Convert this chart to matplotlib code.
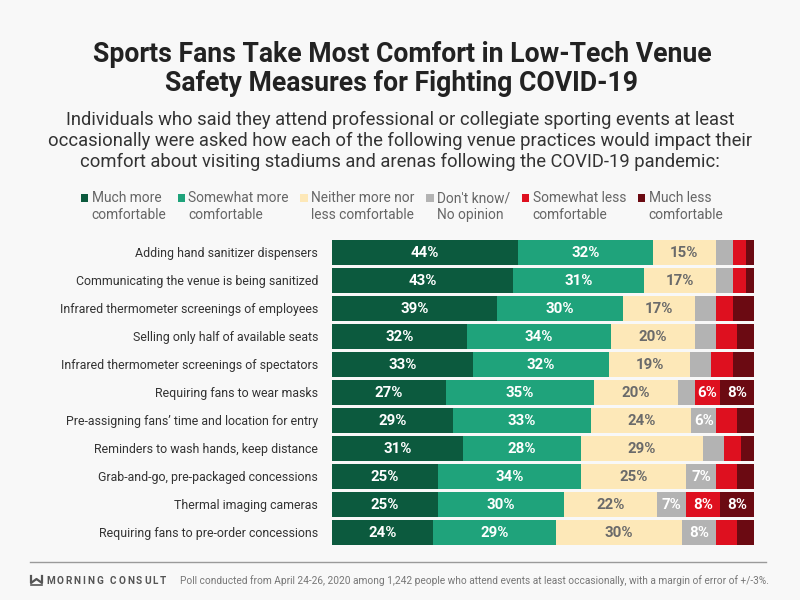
import matplotlib
matplotlib.use("Agg")
import matplotlib.pyplot as plt
from matplotlib.patches import Rectangle
from matplotlib.lines import Line2D
import numpy as np

categories = [
    "Adding hand sanitizer dispensers",
    "Communicating the venue is being sanitized",
    "Infrared thermometer screenings of employees",
    "Selling only half of available seats",
    "Infrared thermometer screenings of spectators",
    "Requiring fans to wear masks",
    "Pre-assigning fans\u2019 time and location for entry",
    "Reminders to wash hands, keep distance",
    "Grab-and-go, pre-packaged concessions",
    "Thermal imaging cameras",
    "Requiring fans to pre-order concessions",
]
much_more = [44, 43, 39, 32, 33, 27, 29, 31, 25, 25, 24]
somewhat_more = [32, 31, 30, 34, 32, 35, 33, 28, 34, 30, 29]
neither = [15, 17, 17, 20, 19, 20, 24, 29, 25, 22, 30]
dont_know = [4, 4, 5, 5, 5, 4, 6, 5, 7, 7, 8]
somewhat_less = [3, 3, 4, 5, 5, 6, 5, 4, 5, 8, 5]
much_less = [2, 2, 5, 4, 5, 8, 4, 3, 4, 8, 4]

series_names = ["Much more\ncomfortable", "Somewhat more\ncomfortable",
                "Neither more nor\nless comfortable", "Don't know/\nNo opinion",
                "Somewhat less\ncomfortable", "Much less\ncomfortable"]
series = [much_more, somewhat_more, neither, dont_know, somewhat_less, much_less]
colors = ["#0c5a3e", "#1fa37b", "#fde8b8", "#b3b3b3", "#de101f", "#6b0a12"]
label_colors = ["white", "white", "#6a6a6a", "white", "white", "white"]

BG = "#f8f8f8"
W, H = 800, 600
fig = plt.figure(figsize=(8, 6), dpi=100, facecolor=BG)
plt.rcParams['font.family'] = ['Roboto', 'DejaVu Sans']


def fx(x):
    return x / W


def fy(y):
    return 1 - y / H


# Title
fig.text(fx(402), fy(62), "Sports Fans Take Most Comfort in Low-Tech Venue",
         ha="center", va="baseline", fontsize=19.2, fontweight="bold", color="#222222")
fig.text(fx(402), fy(91), "Safety Measures for Fighting COVID-19",
         ha="center", va="baseline", fontsize=19.2, fontweight="bold", color="#222222")

sub = ["Individuals who said they attend professional or collegiate sporting events at least",
       "occasionally were asked how each of the following venue practices would impact their",
       "comfort about visiting stadiums and arenas following the COVID-19 pandemic:"]
for i, s in enumerate(sub):
    fig.text(fx(400), fy(125 + 21 * i), s, ha="center", va="baseline",
             fontsize=13.2, color="#333333")

# Legend
sq_x = [80.7, 177.5, 300, 426, 521.7, 637.7]
for x, name, c in zip(sq_x, series_names, colors):
    fig.add_artist(Rectangle((fx(x), fy(201.7)), 7.6 / W, 7.6 / H, transform=fig.transFigure,
                             facecolor=c, edgecolor="none"))
    l1, l2 = name.split("\n")
    fig.text(fx(x + 11), fy(202.3), l1, ha="left", va="baseline", fontsize=9.9, color="#666666")
    fig.text(fx(x + 11), fy(219.3), l2, ha="left", va="baseline", fontsize=9.9, color="#666666")

# Bars
ax = fig.add_axes([fx(332), fy(546.5), (754 - 332) / W, (546.5 - 238.5) / H])
ax.set_facecolor(BG)
data = np.array(series, dtype=float)
totals = data.sum(axis=0)
norm = data / totals * 100
y = np.arange(len(categories))
left = np.zeros(len(categories))
for k in range(len(series)):
    ax.barh(y, norm[k], left=left, height=0.89, color=colors[k], edgecolor="none")
    for i in range(len(categories)):
        v = series[k][i]
        if v >= 6:
            ax.text(left[i] + norm[k][i] / 2, y[i] + 0.03, f"{v}%", ha="center", va="center",
                    fontsize=10.8, fontweight="bold", color=label_colors[k])
    left += norm[k]

ax.set_xlim(0, 100)
ax.set_ylim(len(categories) - 0.5, -0.5)
ax.set_yticks(y)
ax.set_yticklabels(categories, fontsize=8.9, color="#333333")
ax.tick_params(axis="y", length=0, pad=10)
ax.set_xticks([])
for sp in ax.spines.values():
    sp.set_visible(False)

# Footer
fig.add_artist(Line2D([fx(30), fx(766)], [fy(562.3), fy(562.3)], transform=fig.transFigure,
                      color="#9a9a9a", linewidth=1.0))
# logo mark
fig.add_artist(Line2D([fx(31), fx(31), fx(36.5), fx(42), fx(42)],
                      [fy(576), fy(583), fy(579), fy(583), fy(576)], transform=fig.transFigure,
                      color="#555555", linewidth=1.6))
fig.add_artist(Line2D([fx(31), fx(42)], [fy(584.5), fy(584.5)], transform=fig.transFigure,
                      color="#555555", linewidth=1.2))

# spaced brand letters
fig.canvas.draw()
renderer = fig.canvas.get_renderer()
brand = "MORNING CONSULT"
xpos = 46.0
for ch in brand:
    t = fig.text(fx(xpos), fy(583.5), ch, ha="left", va="baseline", fontsize=7.2,
                 fontweight="bold", color="#555555")
    if ch == " ":
        wpx = 3.0
    else:
        wpx = t.get_window_extent(renderer).width
    xpos += wpx + 1.9

fig.text(fx(180), fy(583.5),
         "Poll conducted from April 24-26, 2020 among 1,242 people who attend events at least occasionally, with a margin of error of +/-3%.",
         ha="left", va="baseline", fontsize=7.25, color="#777777")

fig.savefig("out.png", dpi=100, facecolor=BG)
